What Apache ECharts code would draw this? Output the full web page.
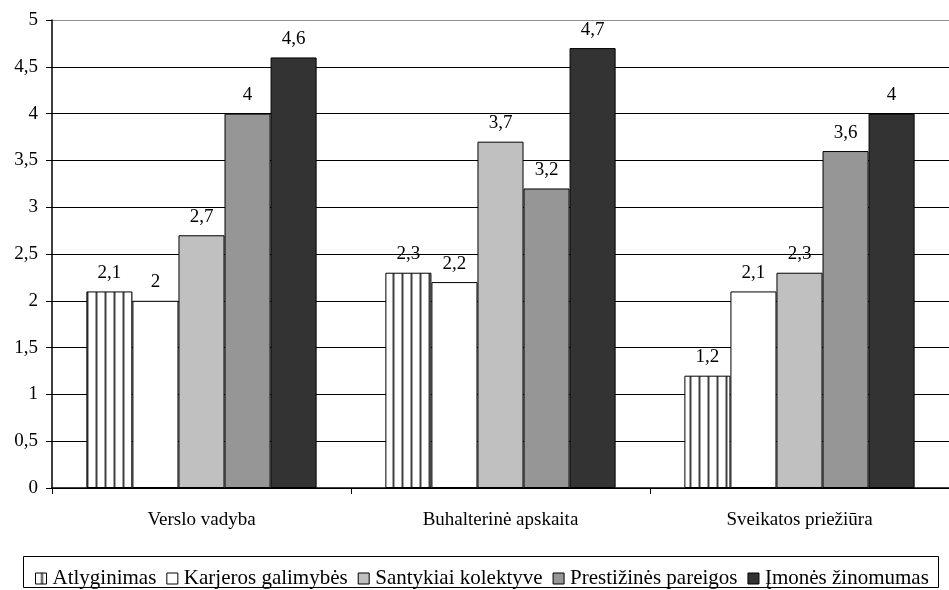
<!DOCTYPE html>
<html>
<head>
<meta charset="utf-8">
<script src="https://cdn.jsdelivr.net/npm/echarts@6/dist/echarts.min.js"></script>
<style>html,body{margin:0;padding:0;background:#fff;}#c{width:949px;height:590px;}</style>
</head>
<body>
<div id="c"></div>
<script>
const categories = ['Verslo vadyba', 'Buhalterinė apskaita', 'Sveikatos priežiūra'];
const seriesNames = ['Atlyginimas', 'Karjeros galimybės', 'Santykiai kolektyve', 'Prestižinės pareigos', 'Įmonės žinomumas'];
const atlyginimas = [2.1, 2.3, 1.2];
const karjeros = [2.0, 2.2, 2.1];
const santykiai = [2.7, 3.7, 2.3];
const prestizines = [4.0, 3.2, 3.6];
const zinomumas = [4.6, 4.7, 4.0];
const yTicks = [0, 0.5, 1, 1.5, 2, 2.5, 3, 3.5, 4, 4.5, 5];

const FONT = "'Liberation Serif','Times New Roman',serif";
const fmt = v => String(v).replace('.', ',');

// vertical stripe pattern
const pc = document.createElement('canvas');
pc.width = 9; pc.height = 4;
const pctx = pc.getContext('2d');
pctx.fillStyle = '#fff'; pctx.fillRect(0, 0, 9, 4);
pctx.fillStyle = '#a0a0a0'; pctx.fillRect(5, 0, 1, 4); pctx.fillRect(7, 0, 1, 4);
pctx.fillStyle = '#404040'; pctx.fillRect(6, 0, 1, 4);
const stripe = { image: pc, repeat: 'repeat' };

const values = [atlyginimas, karjeros, santykiai, prestizines, zinomumas];
const colors = [stripe, '#ffffff', '#c0c0c0', '#969696', '#333333'];

const chart = echarts.init(document.getElementById('c'), null, { renderer: 'canvas' });
const splitColors = yTicks.map((t, i) => i === yTicks.length - 1 ? '#909090' : '#000');

chart.setOption({
  animation: false,
  backgroundColor: '#fff',
  textStyle: { fontFamily: FONT },
  grid: { left: 52, top: 20, width: 908, height: 468 },
  xAxis: {
    type: 'category',
    data: categories,
    axisLine: { lineStyle: { color: '#000', width: 1.5 } },
    axisTick: { show: true, length: 6, lineStyle: { color: '#000' } },
    axisLabel: { color: '#000', fontFamily: FONT, fontSize: 19, margin: 23 }
  },
  yAxis: {
    type: 'value',
    min: 0, max: 5, interval: 0.5,
    axisLine: { show: true, lineStyle: { color: '#000', width: 1.5 } },
    axisTick: { show: true, length: 6, lineStyle: { color: '#000' } },
    axisLabel: { color: '#000', fontFamily: FONT, fontSize: 19, margin: 14, formatter: v => fmt(v) },
    splitLine: { show: true, lineStyle: { color: splitColors, width: 1.2 } }
  },
  legend: {
    left: 30, top: 563,
    itemWidth: 11, itemHeight: 11, itemGap: 10,
    icon: 'rect',
    data: seriesNames,
    itemStyle: { borderColor: '#000', borderWidth: 1 },
    textStyle: { color: '#000', fontFamily: FONT, fontSize: 21, padding: [0, 0, 0, 1] }
  },
  graphic: [{
    type: 'rect',
    shape: { x: 23.5, y: 556.5, width: 915, height: 31 },
    style: { fill: 'none', stroke: '#000', lineWidth: 1 },
    silent: true, z: -1
  }],
  series: seriesNames.map((name, i) => ({
    name,
    type: 'bar',
    data: values[i],
    barGap: '0%',
    barCategoryGap: '23%',
    itemStyle: { color: colors[i], borderColor: '#000', borderWidth: 1 },
    label: {
      show: true, position: 'top', distance: 9,
      color: '#000', fontFamily: FONT, fontSize: 19,
      formatter: p => fmt(p.value)
    }
  }))
});
</script>
</body>
</html>
